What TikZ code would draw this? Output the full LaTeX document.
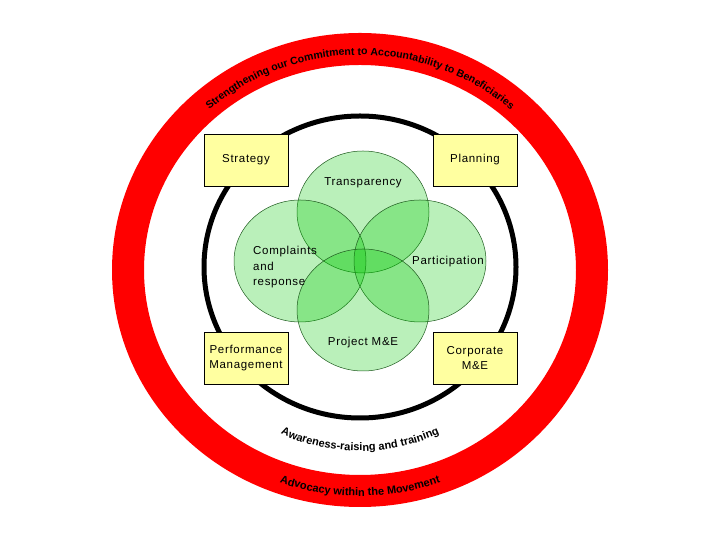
\documentclass[tikz,border=0pt]{standalone}
\usepackage{fontspec}
\setmainfont{Liberation Sans}
\newfontfamily\spaced[LetterSpace=6]{Liberation Sans}
\usetikzlibrary{decorations.text,calc}
\begin{document}
\begin{tikzpicture}[x=1pt,y=1pt,
  box/.style={draw=black,line width=0.6pt,fill={rgb,255:red,255;green,255;blue,160},minimum width=84pt,minimum height=52pt,align=center,font=\spaced\fontsize{11.5}{15.5}\selectfont,inner sep=1pt},
  venn/.style={draw={rgb,255:red,30;green,90;blue,30},line width=0.5pt,fill={rgb,255:red,0;green,200;blue,0},fill opacity=0.27},
  lbl/.style={font=\spaced\fontsize{11.5}{15.5}\selectfont,align=left,inner sep=1pt}]
\useasboundingbox (0,0) rectangle (720,540);
% red ring
\draw[red,line width=32pt] (360,270) ellipse[x radius=232,y radius=221];
% black ring
\draw[black,line width=5pt] (360,273) ellipse[x radius=156,y radius=151];
% venn
\fill[white] (363,328) ellipse[x radius=66,y radius=61];
\fill[white] (300,279) ellipse[x radius=66,y radius=61];
\fill[white] (420,279) ellipse[x radius=66,y radius=61];
\fill[white] (363,230) ellipse[x radius=66,y radius=61];
\path[venn] (363,328) ellipse[x radius=66,y radius=61];
\path[venn] (300,279) ellipse[x radius=66,y radius=61];
\path[venn] (420,279) ellipse[x radius=66,y radius=61];
\path[venn] (363,230) ellipse[x radius=66,y radius=61];
\node[lbl] (tr) at (363,357) {Transparency};
\node[lbl,anchor=north west] (cr) at (252,295) {Complaints\\and\\response};
\node[lbl] (pa) at (448,278) {Participation};
\node[lbl] (pm) at (363,197) {Project M\&E};
% boxes
\node[box] (st) at (246,380) {Strategy};
\node[box] (pl) at (475,380) {Planning};
\node[box] (pe) at (246,182) {Performance\\Management};
\node[box] (co) at (475,182) {Corporate\\M\&E};
% curved texts
\path[decorate,decoration={text along path,text align=center,
  text={|\bfseries\fontsize{10.5}{10}\selectfont|Strengthening our Commitment to Accountability to Beneficiaries}}]
  ($(360,270)+(133:226 and 215)$) arc[start angle=133,end angle=47,x radius=226,y radius=215];
\path[decorate,decoration={text along path,text align=center,
  text={|\bfseries\fontsize{11}{10}\selectfont|Advocacy within the Movement}}]
  ($(360,270)+(246:237 and 226)$) arc[start angle=246,end angle=294,x radius=237,y radius=226];
\path[decorate,decoration={text along path,text align=center,
  text={|\bfseries\fontsize{11}{10}\selectfont|Awareness-raising and training}}]
  ($(360,270)+(240:187 and 181)$) arc[start angle=240,end angle=300,x radius=187,y radius=181];
\end{tikzpicture}
\end{document}
